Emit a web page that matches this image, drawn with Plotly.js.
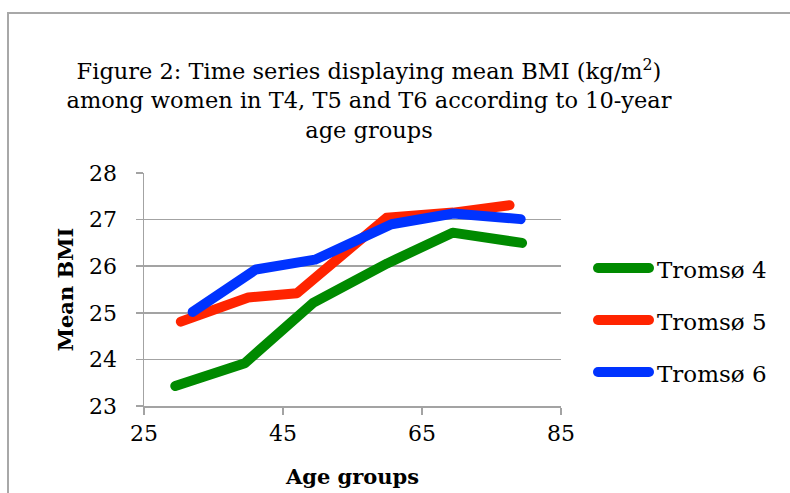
<!DOCTYPE html>
<html>
<head>
<meta charset="utf-8">
<script src="https://cdn.plot.ly/plotly-3.0.1.min.js"></script>
<style>
  html, body { margin: 0; padding: 0; background: #fff; }
  #chart { width: 790px; height: 493px; }
  /* rounded ends and joins on the thick series lines and legend keys */
  .scatterlayer .js-line, .shapelayer path.legend-key { stroke-linecap: round; stroke-linejoin: round; }
</style>
</head>
<body>
<div id="chart"></div>
<script>
// Mean BMI by 10-year age group, women, Tromsø 4/5/6
const seriesNames = ['Tromsø 4', 'Tromsø 5', 'Tromsø 6'];
const seriesColors = ['#008a00', '#ff2400', '#0033ff'];

const agesT4 = [29.5, 39.5, 49.4, 60.0, 69.4, 79.4];
const bmiT4  = [23.43, 23.92, 25.22, 26.06, 26.72, 26.5];

const agesT5 = [30.3, 40.0, 47.0, 59.9, 69.5, 77.6];
const bmiT5  = [24.81, 25.33, 25.42, 27.04, 27.15, 27.31];

const agesT6 = [32.0, 41.1, 49.6, 60.6, 69.5, 79.2];
const bmiT6  = [25.02, 25.93, 26.14, 26.9, 27.13, 27.01];

const xTickVals = [25, 45, 65, 85];
const yTickVals = [23, 24, 25, 26, 27, 28];

const W = 790, H = 493;
const M = { l: 144, r: 229, t: 173, b: 87 };
const plotW = W - M.l - M.r, plotH = H - M.t - M.b;
const px2x = p => (p - M.l) / plotW;          // pixel column -> paper x
const px2y = p => (H - M.b - p) / plotH;      // pixel row -> paper y

const FONT = 'DejaVu Serif, serif';
const GRID = '#a3a3a3';

const xs = [agesT4, agesT5, agesT6];
const ys = [bmiT4, bmiT5, bmiT6];

const traces = seriesNames.map((name, i) => ({
  type: 'scatter', mode: 'lines', name,
  x: xs[i], y: ys[i],
  line: { color: seriesColors[i], width: 10 },
  showlegend: false, hoverinfo: 'skip'
}));

// legend keys drawn beside the plot
const legendRows = [268, 320, 372];
const shapes = [{
  type: 'rect', xref: 'paper', yref: 'paper',
  x0: px2x(8), x1: px2x(W + 20), y0: px2y(H + 20), y1: px2y(13),
  line: { color: '#a8a8a8', width: 2 }, fillcolor: 'rgba(0,0,0,0)', layer: 'below'
}];
const annotations = [];
seriesNames.forEach((name, i) => {
  shapes.push({
    type: 'line', xref: 'paper', yref: 'paper',
    x0: px2x(598), x1: px2x(649), y0: px2y(legendRows[i]), y1: px2y(legendRows[i]),
    line: { color: seriesColors[i], width: 10 }
  });
  annotations.push({
    xref: 'paper', yref: 'paper', x: px2x(655), y: px2y(legendRows[i] + 2),
    xanchor: 'left', yanchor: 'middle', showarrow: false,
    text: name, font: { family: FONT, size: 23, color: '#000' }
  });
});

const layout = {
  width: W, height: H,
  margin: M,
  paper_bgcolor: '#fff', plot_bgcolor: '#fff',
  font: { family: FONT, color: '#000' },
  title: {
    text: 'Figure 2: Time series displaying mean BMI (kg/m<sup>2</sup>)<br>among women in T4, T5 and T6 according to 10-year<br>age groups',
    font: { family: FONT, size: 22.5, color: '#000' },
    xref: 'paper', x: px2x(369), xanchor: 'center',
    yref: 'container', y: 1 - 79 / H, yanchor: 'top'
  },
  xaxis: {
    range: [25, 85], tickmode: 'array', tickvals: xTickVals,
    showgrid: false, zeroline: false,
    showline: true, linecolor: GRID, linewidth: 1.5,
    ticks: 'outside', ticklen: 7, tickcolor: GRID, tickwidth: 1.5,
    ticklabelstandoff: 4.5,
    tickfont: { family: FONT, size: 22, color: '#000' },
    title: { text: '<b>Age groups</b>', font: { family: FONT, size: 21, color: '#000' }, standoff: 24 }
  },
  yaxis: {
    range: [23, 28], tickmode: 'array', tickvals: yTickVals,
    showgrid: true, gridcolor: GRID, gridwidth: 1.5, zeroline: false,
    showline: true, linecolor: GRID, linewidth: 1.5,
    ticks: 'outside', ticklen: 7, tickcolor: GRID, tickwidth: 1.5,
    ticklabelstandoff: 14,
    tickfont: { family: FONT, size: 22, color: '#000' },
    title: { text: '<b>Mean BMI</b>', font: { family: FONT, size: 21, color: '#000' }, standoff: 9 }
  },
  shapes, annotations,
  showlegend: false
};

Plotly.newPlot('chart', traces, layout, { displayModeBar: false, staticPlot: true }).then(() => {
  // rounded caps on the legend keys (the 10px-wide shape lines)
  document.querySelectorAll('.shapelayer path').forEach(p => {
    if (parseFloat(p.style.strokeWidth) === 10) p.classList.add('legend-key');
  });
});
</script>
</body>
</html>
